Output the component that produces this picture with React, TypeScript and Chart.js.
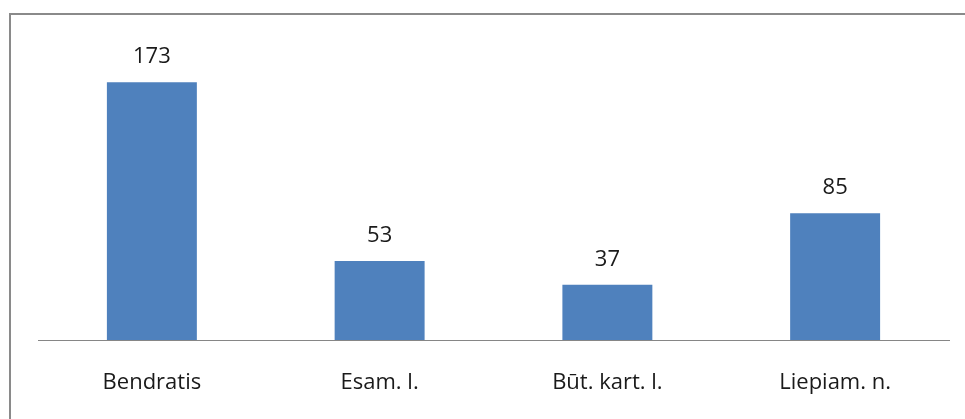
import React, { useEffect, useRef } from "react";
import { Chart, registerables } from "chart.js";

Chart.register(...registerables);

const categories = ["Bendratis", "Esam. l.", "Būt. kart. l.", "Liepiam. n."];
const values = [173, 53, 37, 85];
const yMax = 200;

const FONT = "'Open Sans', 'DejaVu Sans', sans-serif";

const valueLabels = {
  id: "valueLabels",
  afterDatasetsDraw(chart: any) {
    const ctx = chart.ctx;
    const meta = chart.getDatasetMeta(0);
    ctx.save();
    ctx.font = `22px ${FONT}`;
    ctx.fillStyle = "#1a1a1a";
    ctx.textAlign = "center";
    ctx.textBaseline = "alphabetic";
    meta.data.forEach((bar: any, i: number) => {
      ctx.fillText(String(chart.data.datasets[0].data[i]), bar.x, bar.y - 19);
    });
    ctx.restore();
  },
};

export default function App() {
  const ref = useRef<HTMLCanvasElement>(null);
  useEffect(() => {
    const chart = new Chart(ref.current!, {
      type: "bar",
      data: {
        labels: categories,
        datasets: [
          {
            data: values,
            backgroundColor: "#4F81BD",
            borderWidth: 0,
            barPercentage: 0.395,
            categoryPercentage: 1,
          },
        ],
      },
      options: {
        animation: false,
        responsive: false,
        maintainAspectRatio: false,
        layout: { padding: { left: 38, right: 16, top: 42, bottom: 0 } },
        plugins: { legend: { display: false }, tooltip: { enabled: false } },
        scales: {
          y: { display: false, min: 0, max: yMax },
          x: {
            grid: { display: false, drawTicks: false },
            border: { display: true, color: "#868686", width: 1 },
            ticks: {
              color: "#1a1a1a",
              font: { family: FONT, size: 22 },
              padding: 30,
              maxRotation: 0,
            },
            afterFit(scale: any) {
              scale.height = 79;
            },
          },
        },
      },
      plugins: [valueLabels],
    });
    return () => chart.destroy();
  }, []);

  return (
    <div
      style={{
        position: "fixed",
        left: 0,
        top: 0,
        width: 965,
        height: 419,
        background: "#ffffff",
        overflow: "hidden",
      }}
    >
      <canvas ref={ref} width={965} height={419} style={{ position: "absolute", left: 0, top: 0 }} />
      <div
        style={{
          position: "absolute",
          left: 9,
          top: 13,
          width: 1100,
          height: 600,
          borderLeft: "2px solid #8a8a8a",
          borderTop: "2px solid #8a8a8a",
          pointerEvents: "none",
        }}
      />
    </div>
  );
}
